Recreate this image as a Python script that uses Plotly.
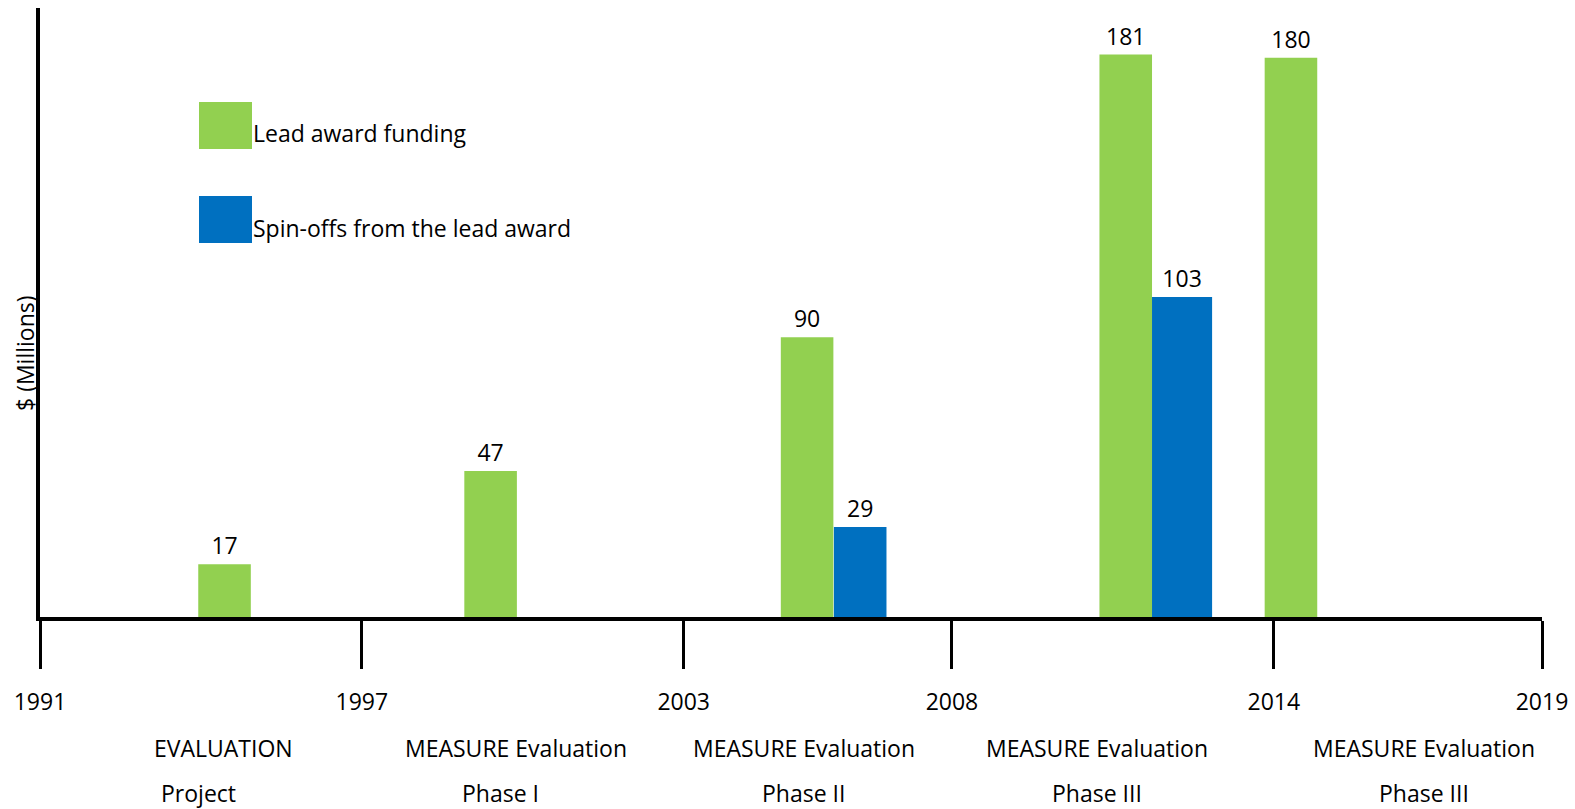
import plotly.graph_objects as go

# ---- data ----
lead_x = [1994.44, 1999.40, 2005.30, 2011.24, 2014.32]
lead_values = [17, 47, 90, 181, 180]
spin_x = [2006.29, 2012.29]
spin_values = [29, 103]
tick_years = [1991, 1997, 2003, 2008, 2014, 2019]
period_line1 = ["EVALUATION", "MEASURE Evaluation", "MEASURE Evaluation",
                "MEASURE Evaluation", "MEASURE Evaluation"]
period_line2 = ["Project", "Phase I", "Phase II", "Phase III", "Phase III"]
series_names = ["Lead award funding", "Spin-offs from the lead award"]

GREEN = "#92D050"
BLUE = "#0070C0"
FONT = "Open Sans, sans-serif"
FS = 23

fig = go.Figure()
fig.add_trace(go.Bar(
    x=lead_x, y=lead_values, width=[0.98] * len(lead_x),
    marker=dict(color=GREEN, line=dict(width=0)),
    text=[str(v) for v in lead_values], textposition="outside",
    textfont=dict(family=FONT, size=FS, color="black"),
    cliponaxis=False, name=series_names[0], showlegend=False,
))
fig.add_trace(go.Bar(
    x=spin_x, y=spin_values, width=[0.98, 1.12],
    marker=dict(color=BLUE, line=dict(width=0)),
    text=[str(v) for v in spin_values], textposition="outside",
    textfont=dict(family=FONT, size=FS, color="black"),
    cliponaxis=False, name=series_names[1], showlegend=False,
))

# legend drawn as squares + labels
PL, PT, PW, PH = 40, 8, 1502, 609
def px(xp):
    return (xp - PL) / PW
def py(yp):
    return (PT + PH - yp) / PH

shapes = []
annotations = []
for (y0, y1, col, ty, name) in [(102, 149, GREEN, 133, series_names[0]),
                                (196, 243, BLUE, 228, series_names[1])]:
    shapes.append(dict(type="rect", xref="paper", yref="paper",
                       x0=px(199), x1=px(252), y0=py(y1), y1=py(y0),
                       fillcolor=col, line=dict(width=0), layer="above"))
    annotations.append(dict(xref="paper", yref="paper", x=px(251), y=py(ty),
                            xanchor="left", yanchor="middle", showarrow=False,
                            text=name, font=dict(family=FONT, size=FS, color="black")))

# period labels below axis
line1_x = [1994.43, 1999.87, 2005.24, 2010.71, 2016.80]
line2_x = [1993.96, 1999.59, 2005.24, 2010.71, 2016.80]
for t1, t2, x1, x2 in zip(period_line1, period_line2, line1_x, line2_x):
    annotations.append(dict(xref="x", yref="paper", x=x1, y=py(748),
                            xanchor="center", yanchor="middle", showarrow=False,
                            text=t1, font=dict(family=FONT, size=FS, color="black")))
    annotations.append(dict(xref="x", yref="paper", x=x2, y=py(793),
                            xanchor="center", yanchor="middle", showarrow=False,
                            text=t2, font=dict(family=FONT, size=FS, color="black")))

# y-axis title
annotations.append(dict(xref="paper", yref="paper", x=0, y=py(353), xshift=-15,
                        xanchor="center", yanchor="middle", showarrow=False,
                        textangle=-90, text="$ (Millions)",
                        font=dict(family=FONT, size=FS, color="black")))

fig.update_layout(
    width=1575, height=809,
    margin=dict(l=PL, r=1575 - PL - PW, t=PT, b=809 - PT - PH),
    paper_bgcolor="white", plot_bgcolor="white",
    barmode="overlay",
    shapes=shapes, annotations=annotations,
    font=dict(family=FONT, size=FS, color="black"),
    xaxis=dict(range=[1991, 2019], tickvals=tick_years,
               ticktext=[str(t) for t in tick_years],
               showline=True, linecolor="black", linewidth=4,
               ticks="outside", ticklen=48, tickwidth=3, tickcolor="black",
               ticklabelstandoff=13,
               showgrid=False, zeroline=False,
               tickfont=dict(family=FONT, size=FS, color="black")),
    yaxis=dict(range=[0, 196], showline=True, linecolor="black", linewidth=4,
               showticklabels=False, ticks="", showgrid=False, zeroline=False),
)

fig.write_html("out.html", config={"displayModeBar": False},
               post_script="document.body.style.margin='0';document.body.style.overflow='hidden';")
